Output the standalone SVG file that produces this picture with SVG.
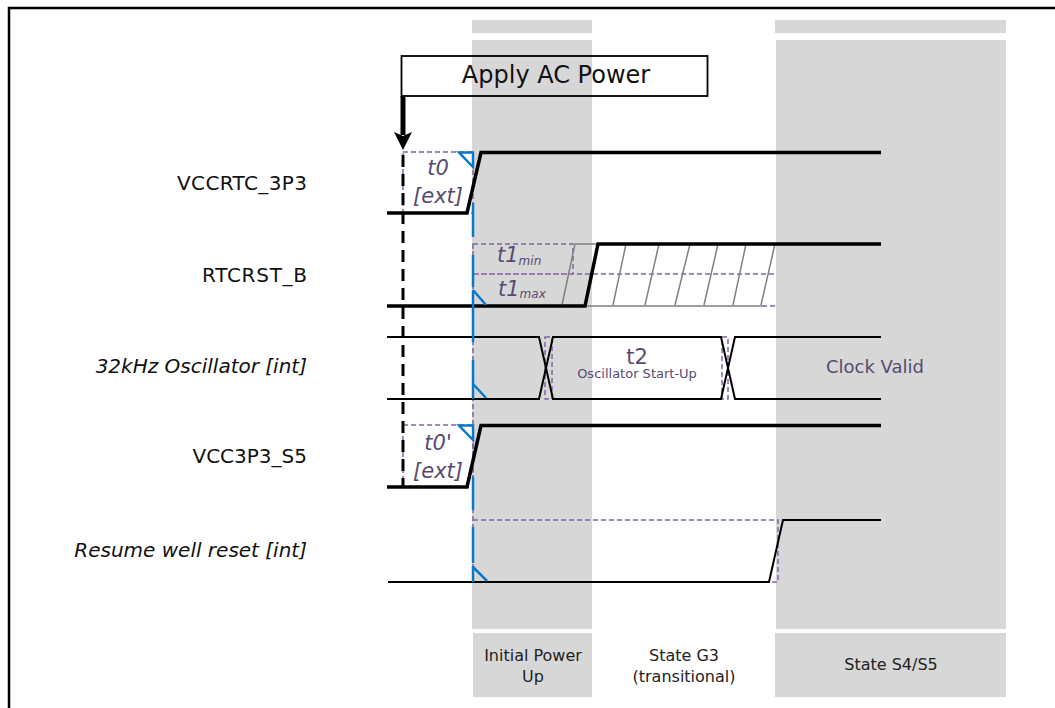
<svg xmlns="http://www.w3.org/2000/svg" width="1055" height="708" viewBox="0 0 1055 708">
<style>
text{font-family:"DejaVu Sans",Verdana,sans-serif}
.g{fill:#d7d7d7}
.lab{font-size:20px;fill:#111;text-anchor:end}
.it{font-style:italic}
.st{font-size:16px;fill:#222;text-anchor:middle}
.p{font-size:21px;fill:#574a72;text-anchor:middle;font-style:italic}
.l{font-size:21px;fill:#574a72;font-style:italic}
.sub{font-size:12px}
.k{fill:none;stroke:#000;stroke-width:3.5}
.t{fill:none;stroke:#000;stroke-width:2}
.h{fill:none;stroke:#808080;stroke-width:1.5}
.d{fill:none;stroke:#8064a2;stroke-width:1.5;stroke-dasharray:5 3}
.b{fill:none;stroke:#0a78c8;stroke-width:2.500}
</style>
<path d="M9 708V8H1055" fill="none" stroke="#000" stroke-width="2.500"/>
<g id="bands">
<rect class="g" x="472" y="20" width="120" height="13"/>
<rect class="g" x="472" y="40" width="120" height="589"/>
<rect class="g" x="473" y="633" width="119" height="64"/>
<rect class="g" x="775" y="20" width="231" height="13"/>
<rect class="g" x="776" y="40" width="230" height="589"/>
<rect class="g" x="775" y="633" width="231" height="64"/>
</g>
<g id="connectors">
<path class="d" d="M403 152H473V213H403ZM403 425H473V487H403Z"/>
<path class="d" d="M473 244H573V274H473ZM473 274H776M473 244V582M762 306H776"/>
<path class="d" d="M545 337H552V399H545ZM722 337H728V399H722Z"/>
<path class="d" d="M473 520H778V582H769"/>
<path class="h" d="M562 305L575 244H597M613 305L626 244M645 305L659 244M675 305L690 244M704 305L718 244M733 305L746 244M761 305L775 244M584 306H762"/>
<path class="k" d="M387 213H467L481 152.500H881M387 487H467L481 425.500H881M387 306H585L598 244H881"/>
<path class="t" d="M387 337H539L553 399H721L735 337H881M387 399H539L553 337H721L735 399H881"/>
<path class="t" d="M388 582H769L783 520H881"/>
<path d="M403 96V135" stroke="#000" stroke-width="5" fill="none"/>
<polygon points="394,132 403,136 412,132 403,150" fill="#000"/>
<path d="M403 155V487" stroke="#000" stroke-width="3" stroke-dasharray="12 7" fill="none"/>
<path class="b" d="M473 203V237M473 255V287M473 290V342M473 360V399M473 477V510M473 527V563M473 566V582"/>
<path class="b" d="M459 152.500H473V167ZM459 425.500H473V440Z"/>
<path class="b" d="M473 290L486 305M473 384L486 398M473 567L487 581" stroke-width="1.500"/>
</g>
<g id="apply-ac-power">
<rect x="401.500" y="56" width="306" height="40" fill="none" stroke="#000" stroke-width="1.800"/>
<text x="556" y="83" font-size="24" fill="#111" text-anchor="middle">Apply AC Power</text>
</g>
<g id="labels">
<text class="lab" x="307" y="190" textLength="130">VCCRTC_3P3</text>
<text class="lab" x="307" y="282" textLength="105">RTCRST_B</text>
<text class="lab it" x="307" y="373">32kHz Oscillator [int]</text>
<text class="lab" x="307" y="463">VCC3P3_S5</text>
<text class="lab it" x="307" y="557">Resume well reset [int]</text>
<text class="p" x="438" y="175">t0</text>
<text class="p" x="438" y="203">[ext]</text>
<text class="p" x="438" y="450">t0'</text>
<text class="p" x="438" y="478">[ext]</text>
<text class="l" x="497" y="262">t1<tspan class="sub" dy="3">min</tspan></text>
<text class="l" x="498" y="296">t1<tspan class="sub" dy="2">max</tspan></text>
<text x="637" y="364" font-size="21" fill="#574a72" text-anchor="middle">t2</text>
<text x="637" y="378" font-size="13" fill="#574a72" text-anchor="middle">Oscillator Start-Up</text>
<text x="875" y="373" font-size="18" fill="#574a72" text-anchor="middle">Clock Valid</text>
<text class="st" x="533" y="661">Initial Power</text>
<text class="st" x="533" y="682">Up</text>
<text class="st" x="684" y="661">State G3</text>
<text class="st" x="684" y="682">(transitional)</text>
<text class="st" x="891" y="670">State S4/S5</text>
</g>
</svg>
